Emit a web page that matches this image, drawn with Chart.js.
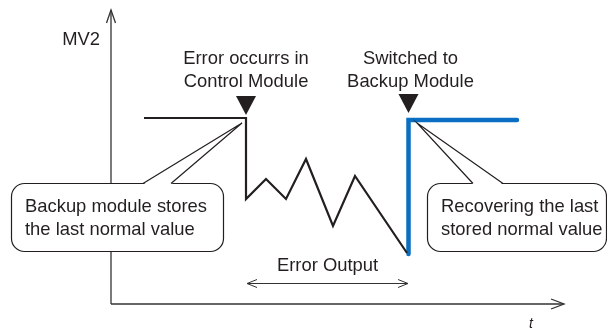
<!DOCTYPE html>
<html><head><meta charset="utf-8">
<script src="https://cdn.jsdelivr.net/npm/chart.js@4"></script>
<style>html,body{margin:0;padding:0;background:#fff}#wrap{width:607px;height:329px;position:relative}</style>
</head><body><div id="wrap"><canvas id="c"></canvas></div>
<script>
// ---- data (t: time units from origin, MV: value units from origin) ----
const errorT   = [33, 135, 135, 155, 175, 195, 222, 244, 296];
const errorMV  = [186, 186, 105, 125, 105, 145, 78, 128, 51];
const backupT  = [297.5, 297.5, 406];
const backupMV = [50, 184, 184];
const axisXT   = [0, 453];
const axisXMV  = [0, 0];
const axisYT   = [0, 0];
const axisYMV  = [0, 294];
const axisTitleY = 'MV2';
const axisTitleX = 't';
const eventT = [135, 297.5];
const eventLabels = [['Error occurrs in', 'Control Module'], ['Switched to', 'Backup Module']];
const calloutTexts = [['Backup module stores', 'the last normal value'], ['Recovering the last', 'stored normal value']];
const spanT = [136, 297];
const spanLabel = 'Error Output';

const toPts = (xs, ys) => xs.map((x, i) => ({x: x, y: ys[i]}));
const INK = '#231f20';
const FONT = '"Liberation Sans", Arial, Helvetica, sans-serif';
const FS = '18.4px ';

const deco = {
  id: 'deco',
  afterDatasetsDraw(chart) {
    const ctx = chart.ctx, sx = chart.scales.x, sy = chart.scales.y;
    const X = t => sx.getPixelForValue(t), Y = v => sy.getPixelForValue(v);
    ctx.save();
    // axis arrowheads
    ctx.strokeStyle = '#333'; ctx.lineWidth = 1.3; ctx.lineJoin = 'miter';
    const ox = X(0), oy = Y(0);
    const yt = Y(axisYMV[1]), xt = X(axisXT[1]);
    ctx.beginPath(); ctx.moveTo(ox - 4.5, yt + 13); ctx.lineTo(ox, yt); ctx.lineTo(ox + 4.5, yt + 13); ctx.stroke();
    ctx.beginPath(); ctx.moveTo(xt - 13, oy - 5); ctx.lineTo(xt, oy); ctx.lineTo(xt - 13, oy + 5); ctx.stroke();
    // axis titles
    ctx.fillStyle = INK;
    ctx.font = FS + FONT; ctx.textAlign = 'right'; ctx.textBaseline = 'alphabetic';
    ctx.fillText(axisTitleY, ox - 11, 45);
    ctx.font = 'italic 14px ' + FONT; ctx.textAlign = 'center';
    ctx.fillText(axisTitleX, 531, 328);
    // event triangles + labels
    ctx.font = FS + FONT; ctx.textAlign = 'center';
    eventT.forEach((t, i) => {
      const px = X(t);
      const tip = i === 0 ? 115 : 113;
      ctx.beginPath(); ctx.moveTo(px - 10, tip - 19); ctx.lineTo(px + 10, tip - 19); ctx.lineTo(px, tip); ctx.closePath();
      ctx.fillStyle = INK; ctx.fill();
      ctx.fillText(eventLabels[i][0], px + (i ? 2 : 0), 64);
      ctx.fillText(eventLabels[i][1], px + (i ? 2 : 0), 87);
    });
    // callouts
    const boxes = [
      {x: 11, y: 183, w: 212, h: 68, b1: 143, b2: 171, tx: 242, ty: 123, textX: 25},
      {x: 427, y: 183, w: 179, h: 68, b1: 473, b2: 503, tx: 417, ty: 123, textX: 441}
    ];
    boxes.forEach((b, i) => {
      ctx.lineWidth = 1.2; ctx.strokeStyle = INK; ctx.fillStyle = '#fff';
      ctx.beginPath(); ctx.roundRect(b.x + 0.5, b.y + 0.5, b.w, b.h, 13); ctx.fill(); ctx.stroke();
      ctx.beginPath(); ctx.moveTo(b.b1, b.y + 1.5); ctx.lineTo(b.tx, b.ty); ctx.lineTo(b.b2, b.y + 1.5); ctx.closePath();
      ctx.fill();
      ctx.beginPath(); ctx.moveTo(b.b1, b.y + 0.5); ctx.lineTo(b.tx, b.ty); ctx.lineTo(b.b2, b.y + 0.5); ctx.stroke();
      ctx.fillStyle = INK; ctx.textAlign = 'left'; ctx.font = FS + FONT;
      ctx.fillText(calloutTexts[i][0], b.textX, 212);
      ctx.fillText(calloutTexts[i][1], b.textX, 235);
    });
    // span double arrow
    const ay = 283.5, a1 = X(spanT[0]), a2 = X(spanT[1]);
    ctx.strokeStyle = '#333'; ctx.lineWidth = 1;
    ctx.beginPath(); ctx.moveTo(a1, ay); ctx.lineTo(a2, ay); ctx.stroke();
    ctx.beginPath(); ctx.moveTo(a1 + 10, ay - 4); ctx.lineTo(a1, ay); ctx.lineTo(a1 + 10, ay + 4); ctx.stroke();
    ctx.beginPath(); ctx.moveTo(a2 - 10, ay - 4); ctx.lineTo(a2, ay); ctx.lineTo(a2 - 10, ay + 4); ctx.stroke();
    ctx.fillStyle = INK; ctx.textAlign = 'center'; ctx.font = FS + FONT;
    ctx.fillText(spanLabel, (a1 + a2) / 2, 271);
    ctx.restore();
  }
};

new Chart(document.getElementById('c'), {
  type: 'scatter',
  data: {
    datasets: [
      {data: toPts(axisYT, axisYMV), showLine: true, borderColor: '#333', borderWidth: 1.3, pointRadius: 0},
      {data: toPts(axisXT, axisXMV), showLine: true, borderColor: '#333', borderWidth: 1.3, pointRadius: 0},
      {data: toPts(errorT, errorMV), showLine: true, borderColor: INK, borderWidth: 2.2, pointRadius: 0, borderJoinStyle: 'miter', borderCapStyle: 'butt'},
      {data: toPts(backupT, backupMV), showLine: true, borderColor: '#0a6fc2', borderWidth: 4.5, pointRadius: 0, borderJoinStyle: 'miter', borderCapStyle: 'round'}
    ]
  },
  options: {
    responsive: true, maintainAspectRatio: false, animation: false, devicePixelRatio: 1,
    layout: {padding: 0},
    plugins: {legend: {display: false}, tooltip: {enabled: false}},
    scales: {
      x: {type: 'linear', min: -111, max: 496, display: false},
      y: {type: 'linear', min: -25, max: 304, display: false}
    }
  },
  plugins: [deco]
});
</script>
</body></html>
